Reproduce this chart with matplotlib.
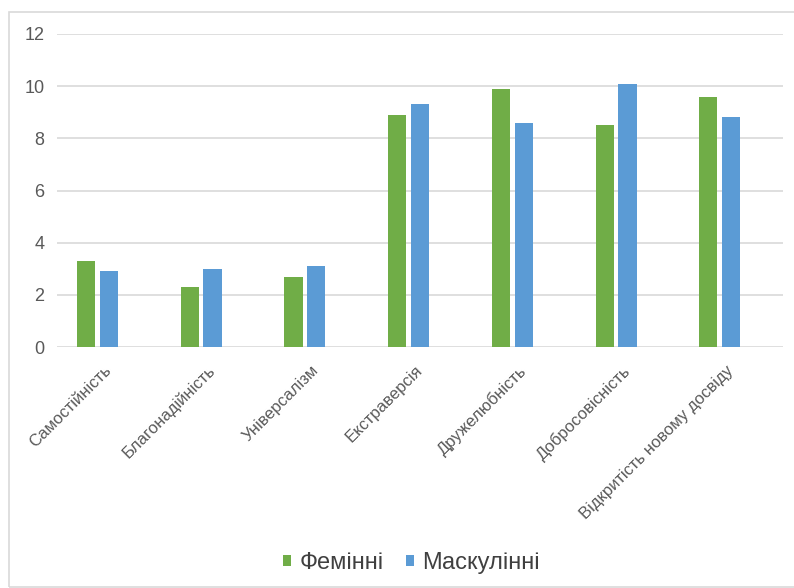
import numpy as np
import matplotlib
matplotlib.use("Agg")
import matplotlib.pyplot as plt
import matplotlib.transforms as mtransforms
from matplotlib.patches import Rectangle

plt.rcParams['font.family'] = ['Liberation Sans', 'DejaVu Sans']

categories = ['Самостійність', 'Благонадійність', 'Універсалізм', 'Екстраверсія',
              'Дружелюбність', 'Добросовісність', 'Відкритість новому досвіду']
feminine = [3.3, 2.3, 2.7, 8.9, 9.9, 8.5, 9.6]
masculine = [2.9, 3.0, 3.1, 9.3, 8.6, 10.1, 8.8]
series_names = ['Фемінні', 'Маскулінні']

GREEN = '#70AD47'
BLUE = '#5B9BD5'
TEXT = '#595959'
GRID = '#D9D9D9'

fig = plt.figure(figsize=(7.94, 5.88), dpi=100)
ax = fig.add_axes([57 / 794, 1 - 347 / 588, 726 / 794, 313 / 588])

x = np.arange(len(categories))
w = 0.175
ax.bar(x - 0.11, feminine, w, color=GREEN, label=series_names[0], zorder=3)
ax.bar(x + 0.11, masculine, w, color=BLUE, label=series_names[1], zorder=3)

ax.set_ylim(0, 12)
ax.set_xlim(-0.39, 6.61)
ax.set_yticks(np.arange(0, 13, 2))
ax.yaxis.grid(True, color=GRID, linewidth=1.2, zorder=0)
ax.tick_params(axis='y', length=0, pad=9, labelsize=13, labelcolor=TEXT)
ax.tick_params(axis='x', length=0)
for s in ax.spines.values():
    s.set_visible(False)

# category labels: rotated 45 deg, end of text tucked under each group
ax.set_xticks(x)
ax.set_xticklabels(categories, rotation=45, ha='right', va='top',
                   rotation_mode='anchor', fontsize=12, color=TEXT)
offset = mtransforms.ScaledTranslation(6 / 100, -11 / 100, fig.dpi_scale_trans)
for lbl in ax.get_xticklabels():
    lbl.set_transform(lbl.get_transform() + offset)

leg = fig.legend(loc='center', bbox_to_anchor=(0.518, 1 - 563 / 588), ncol=2,
                 frameon=False, fontsize=17, handlelength=0.35, handleheight=0.35,
                 handletextpad=0.35, columnspacing=0.95)
for t in leg.get_texts():
    t.set_color('#404040')

# light frame around the whole chart
fig.patches.append(Rectangle((9 / 794, 0.002), 1.0, 1 - 12 / 588 - 0.002,
                             transform=fig.transFigure, fill=False,
                             edgecolor='#D9D9D9', linewidth=1.2))

fig.savefig('out.png', dpi=100, facecolor='white')
